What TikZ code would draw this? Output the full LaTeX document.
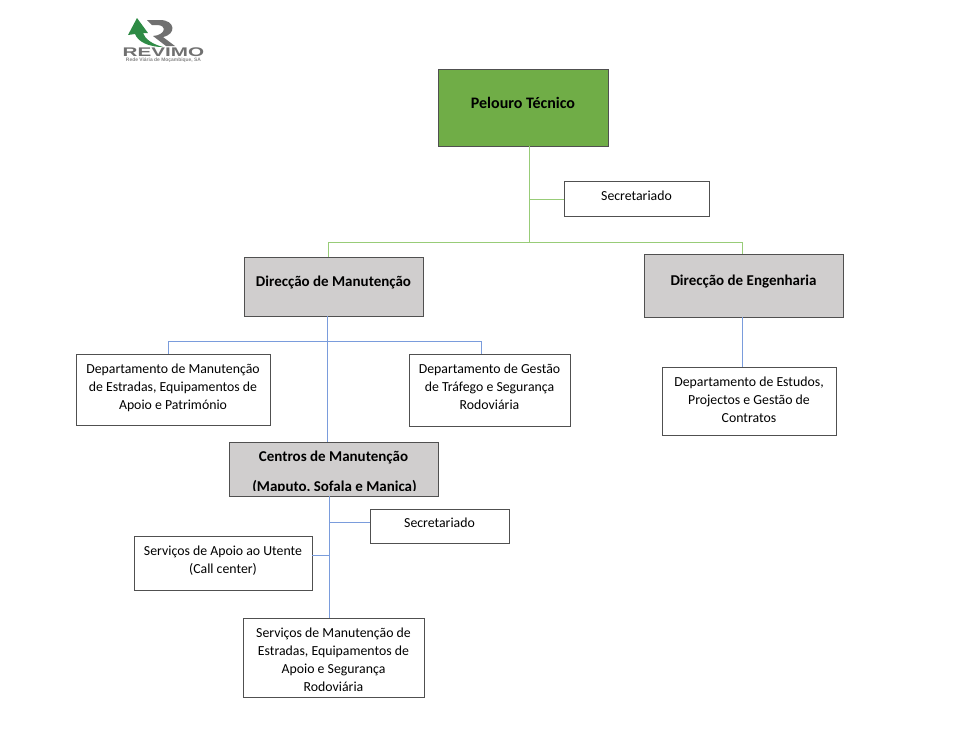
\documentclass[tikz,border=0pt]{standalone}
\usepackage{fontspec}
\setmainfont{Carlito}
\newfontfamily\logofont{Liberation Sans}
\definecolor{boxedge}{HTML}{505050}
\definecolor{greenfill}{HTML}{70AD47}
\definecolor{grayfill}{HTML}{D0CECE}
\definecolor{greenline}{HTML}{98CC78}
\definecolor{blueline}{HTML}{7A9CDC}
\definecolor{logogreen}{HTML}{2E8B45}
\definecolor{logogray}{HTML}{707070}
\tikzset{
  orgbox/.style={draw=boxedge,line width=0.7pt,fill=white,inner sep=0pt,align=center,font=\fontsize{10.35}{13.5}\selectfont},
  headbox/.style={orgbox,font=\fontsize{11.25}{13.5}\selectfont\bfseries},
  greenlink/.style={draw=greenline,line width=0.7pt},
  bluelink/.style={draw=blueline,line width=0.7pt}
}
\newcommand{\bx}[7]{% style,name,x0,y0,x1,y1,text
  \node[#1,minimum width=#5*0.75pt-#3*0.75pt,minimum height=#6*0.75pt-#4*0.75pt] (#2) at ({(#3+#5)/2},{(#4+#6)/2}) {#7};}
\newcommand{\shiftup}[2]{\raisebox{#1}[\height][\depth]{#2}}
\newcommand{\lines}[1]{\begin{tabular}{@{}c@{}}#1\end{tabular}}
\begin{document}
\begin{tikzpicture}[x=0.75pt,y=-0.75pt]
\useasboundingbox (0,0) rectangle (977,747);
% junctions
\coordinate (gtop) at (529,242);
\coordinate (gsec) at (529,199);
\coordinate (gleft) at (328,242);
\coordinate (gright) at (742,242);
\coordinate (bjoin) at (327,341);
\coordinate (bleft) at (168,341);
\coordinate (bright) at (481,341);
\coordinate (csec) at (329,522);
\coordinate (capo) at (329,555);
% boxes
\bx{headbox,fill=greenfill,font=\fontsize{12}{14}\selectfont\bfseries}{pel}{438}{69}{608}{146}{\shiftup{3.5pt}{Pelouro Técnico}}
\bx{orgbox}{sec}{564}{181}{709}{216}{\shiftup{2.2pt}{Secretariado}}
\bx{headbox,fill=grayfill}{dm}{244}{257}{423}{316}{\shiftup{3.2pt}{Direcção de Manutenção}}
\bx{headbox,fill=grayfill}{de}{644}{254}{843}{317}{\shiftup{3.2pt}{Direcção de Engenharia}}
\bx{orgbox}{d1}{76}{354}{270}{425.5}{\shiftup{1.5pt}{\lines{Departamento de Manutenção\\de Estradas, Equipamentos de\\Apoio e Património}}}
\bx{orgbox}{d2}{409}{354}{570}{426}{\shiftup{1.5pt}{\lines{Departamento de Gestão\\de Tráfego e Segurança\\Rodoviária}}}
\bx{orgbox}{d3}{662}{367}{836}{435}{\shiftup{0.25pt}{\lines{Departamento de Estudos,\\Projectos e Gestão de\\Contratos}}}
\bx{orgbox,fill=grayfill}{cm}{229}{442}{438}{496}{}
\begin{scope}
  \clip (229,442) rectangle (438,490.5);
  \node[font=\fontsize{11.25}{13.5}\selectfont\bfseries,inner sep=0pt] (cmt1) at (333.5,457.5) {Centros de Manutenção};
  \node[font=\fontsize{11.25}{13.5}\selectfont\bfseries,inner sep=0pt] (cmt2) at (334.5,487) {(Maputo, Sofala e Manica)};
\end{scope}
\bx{orgbox}{sec2}{370}{509}{509}{543}{\shiftup{2.2pt}{Secretariado}}
\bx{orgbox}{sa}{134}{536}{312}{590}{\shiftup{1.9pt}{\lines{Serviços de Apoio ao Utente\\(Call center)}}}
\bx{orgbox}{sm}{243}{618}{424}{697}{\shiftup{-2.25pt}{\lines{Serviços de Manutenção de\\Estradas, Equipamentos de\\Apoio e Segurança\\Rodoviária}}}
% connectors, from node to node
\draw[greenlink] (pel.south -| gtop) -- (gtop);
\draw[greenlink] (gsec) -- (sec.west |- gsec);
\draw[greenlink] (dm.north -| gleft) -- (gleft) -- (gright) -- (de.north -| gright);
\draw[bluelink] (dm.south -| bjoin) -- (cm.north -| bjoin);
\draw[bluelink] (d1.north -| bleft) -- (bleft) -- (bright) -- (d2.north -| bright);
\draw[bluelink] (de.south -| gright) -- (d3.north -| gright);
\draw[bluelink] (cm.south -| csec) -- (sm.north -| csec);
\draw[bluelink] (csec) -- (sec2.west |- csec);
\draw[bluelink] (capo) -- (sa.east |- capo);
% logo
\fill[logogray] (147,20) -- (160,20) .. controls (175,20) and (177,34) .. (163,37) -- (175,46) -- (166,46) -- (153,36)
  .. controls (166,35) and (167,25) .. (157,25) -- (152,25) -- cycle;
\fill[logogreen] (137,18) -- (148,33) -- (143,33) .. controls (145,39) and (152,44) .. (163,47)
  .. controls (149,47) and (138,42) .. (135,34) -- (128,35) -- cycle;
\node[font=\logofont\fontsize{9.4}{9.4}\selectfont\bfseries,text=logogray,inner sep=0pt] (logotext) at (163.5,52.5) {\scalebox{1.65}[1]{REVIMO}};
\node[font=\logofont\fontsize{3.7}{4}\selectfont\bfseries,text=logogray!85,inner sep=0pt] (logosub) at (163.5,60) {Rede Viária de Moçambique, SA};
\end{tikzpicture}
\end{document}
